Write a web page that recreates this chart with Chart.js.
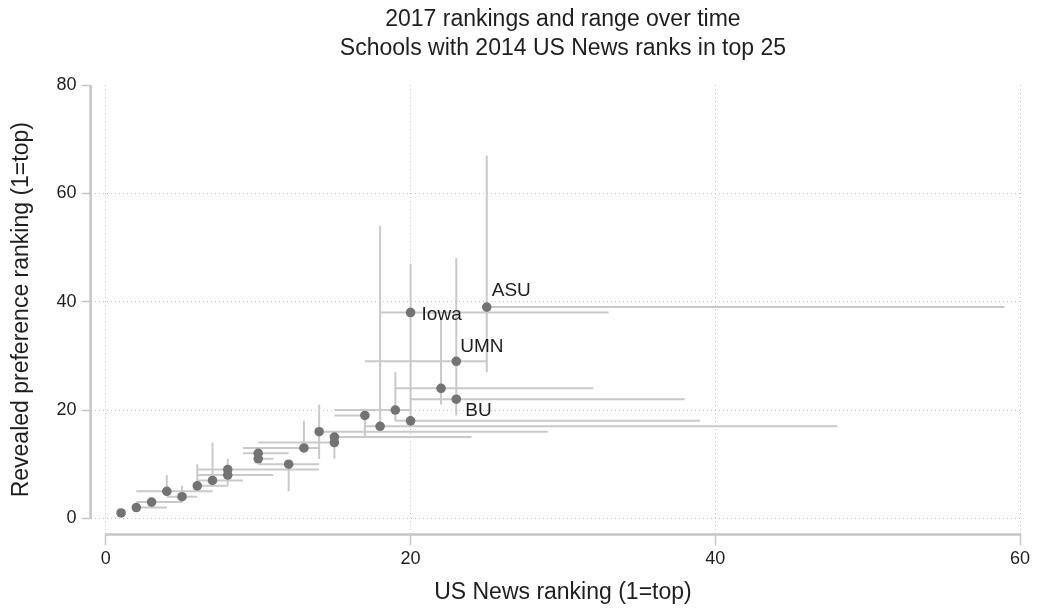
<!DOCTYPE html>
<html lang="en">
<head>
    <meta charset="UTF-8">
    <title>2017 rankings and range over time</title>
    <script src="https://cdn.jsdelivr.net/npm/chart.js"></script>
    <style>
        body {
            margin: 0;
            padding: 0;
            background: #ffffff;
        }

        #wrap {
            width: 1041px;
            height: 612px;
        }
    </style>
</head>
<body>

    <div id="wrap">
        <canvas id="rankChart"></canvas>
    </div>

    <script>
        // 2017 positions of each school
        const usNewsRank = [1, 2, 3, 4, 5, 6, 7, 8, 8, 10, 10, 12, 13, 14, 15, 15, 17, 18, 19, 20, 20, 22, 23, 23, 25];
        const prefRank   = [1, 2, 3, 5, 4, 6, 7, 9, 8, 12, 11, 10, 13, 16, 15, 14, 19, 17, 20, 18, 38, 24, 29, 22, 39];

        // range of each ranking over the years
        const usNewsMin = [1, 2, 2, 2, 4, 6, 6, 6, 6, 9, 10, 10, 9, 14, 15, 10, 15, 17, 15, 19, 18, 19, 17, 20, 25];
        const usNewsMax = [1, 4, 5, 7, 6, 8, 9, 14, 11, 12, 11, 14, 14, 29, 24, 15, 17, 48, 20, 39, 33, 32, 25, 38, 59];
        const prefMin   = [1, 2, 3, 5, 4, 6, 6, 9, 6, 11, 11, 5, 13, 11, 11, 11, 15, 17, 18, 17, 25, 21, 25, 19, 27];
        const prefMax   = [1, 2, 3, 8, 6, 10, 14, 9, 11, 13, 12, 10, 18, 21, 16, 15, 20, 54, 27, 25, 47, 37, 48, 25, 67];

        const schoolNames = ['', '', '', '', '', '', '', '', '', '', '', '', '', '', '', '', '', '', '', '', 'Iowa', '', 'UMN', 'BU', 'ASU'];

        const xTicks = [0, 20, 40, 60];
        const yTicks = [0, 20, 40, 60, 80];

        const titleLines = ['2017 rankings and range over time', 'Schools with 2014 US News ranks in top 25'];
        const xTitle = 'US News ranking (1=top)';
        const yTitle = 'Revealed preference ranking (1=top)';

        const fontFamily = '"Liberation Sans", Arial, sans-serif';
        const textColor = '#1e1e1e';
        const pointColor = '#737373';
        const rangeColor = '#c9c9c9';
        const axisColor = '#c6c6c6';
        const gridColor = '#c2c2c2';

        // label offsets (px) from the marker
        const labelOffsets = {
            Iowa: [11, 2],
            UMN: [4, -15],
            BU: [9, 12],
            ASU: [5, -16]
        };

        const points = usNewsRank.map((x, i) => ({ x: x, y: prefRank[i] }));

        // one broken line: horizontal then vertical segment for each school
        const ranges = [];
        usNewsRank.forEach((x, i) => {
            ranges.push({ x: usNewsMin[i], y: prefRank[i] });
            ranges.push({ x: usNewsMax[i], y: prefRank[i] });
            ranges.push({ x: null, y: null });
            ranges.push({ x: x, y: prefMin[i] });
            ranges.push({ x: x, y: prefMax[i] });
            ranges.push({ x: null, y: null });
        });

        // separate axis lines, spanning the tick range only
        const axisLines = {
            id: 'axisLines',
            beforeDatasetsDraw(chart) {
                const { ctx, chartArea, scales } = chart;
                ctx.save();
                ctx.strokeStyle = axisColor;
                ctx.lineWidth = 2.5;
                ctx.beginPath();
                ctx.moveTo(scales.x.getPixelForValue(0), chartArea.bottom);
                ctx.lineTo(scales.x.getPixelForValue(60), chartArea.bottom);
                ctx.moveTo(chartArea.left, scales.y.getPixelForValue(0));
                ctx.lineTo(chartArea.left, scales.y.getPixelForValue(80));
                ctx.stroke();
                ctx.restore();
            }
        };

        // titles centred over the x tick span
        const centredTitles = {
            id: 'centredTitles',
            afterDraw(chart) {
                const { ctx, scales } = chart;
                const cx = (scales.x.getPixelForValue(0) + scales.x.getPixelForValue(60)) / 2;
                ctx.save();
                ctx.fillStyle = textColor;
                ctx.textAlign = 'center';
                ctx.textBaseline = 'middle';
                ctx.font = '23px ' + fontFamily;
                ctx.fillText(titleLines[0], cx, 20);
                ctx.fillText(titleLines[1], cx, 49);
                ctx.fillText(xTitle, cx, 593);
                ctx.restore();
            }
        };

        const schoolLabels = {
            id: 'schoolLabels',
            afterDatasetsDraw(chart) {
                const { ctx } = chart;
                const meta = chart.getDatasetMeta(1);
                ctx.save();
                ctx.font = '19px ' + fontFamily;
                ctx.fillStyle = textColor;
                ctx.textBaseline = 'middle';
                ctx.textAlign = 'left';
                schoolNames.forEach((name, i) => {
                    if (!name) return;
                    const el = meta.data[i];
                    const off = labelOffsets[name];
                    ctx.fillText(name, el.x + off[0], el.y + off[1]);
                });
                ctx.restore();
            }
        };

        const ctx = document.getElementById('rankChart').getContext('2d');

        new Chart(ctx, {
            type: 'scatter',
            data: {
                datasets: [
                    {
                        label: 'range',
                        data: ranges,
                        showLine: true,
                        spanGaps: false,
                        borderColor: rangeColor,
                        borderWidth: 2,
                        pointRadius: 0,
                        order: 2
                    },
                    {
                        label: '2017',
                        data: points,
                        backgroundColor: pointColor,
                        borderColor: pointColor,
                        pointRadius: 4.8,
                        borderWidth: 0,
                        order: 1
                    }
                ]
            },
            options: {
                responsive: true,
                maintainAspectRatio: false,
                animation: false,
                layout: {
                    padding: { top: 85, right: 21, bottom: 39, left: 0 }
                },
                plugins: {
                    legend: { display: false },
                    tooltip: { enabled: false },
                    title: { display: false }
                },
                scales: {
                    x: {
                        type: 'linear',
                        min: -1.0,
                        max: 60,
                        afterBuildTicks: (scale) => {
                            scale.ticks = xTicks.map(v => ({ value: v }));
                        },
                        border: { display: false, dash: [1, 3] },
                        grid: {
                            color: gridColor,
                            lineWidth: 1,
                            drawTicks: true,
                            tickLength: 11,
                            tickColor: axisColor,
                            tickWidth: 1.5,
                            tickBorderDash: []
                        },
                        ticks: {
                            color: textColor,
                            font: { family: fontFamily, size: 18 },
                            padding: 3
                        }
                    },
                    y: {
                        type: 'linear',
                        min: -2.96,
                        max: 80,
                        afterBuildTicks: (scale) => {
                            scale.ticks = yTicks.map(v => ({ value: v }));
                        },
                        border: { display: false, dash: [1, 3] },
                        grid: {
                            color: (c) => (c.tick && c.tick.value === 80 ? 'rgba(0,0,0,0)' : gridColor),
                            lineWidth: 1,
                            drawTicks: true,
                            tickLength: 9,
                            tickColor: axisColor,
                            tickWidth: 1.5,
                            tickBorderDash: []
                        },
                        ticks: {
                            color: textColor,
                            font: { family: fontFamily, size: 18 },
                            padding: 5
                        },
                        title: {
                            display: true,
                            text: yTitle,
                            color: textColor,
                            font: { family: fontFamily, size: 23 },
                            padding: { top: 8, bottom: 16 }
                        }
                    }
                }
            },
            plugins: [axisLines, schoolLabels, centredTitles]
        });
    </script>

</body>
</html>
